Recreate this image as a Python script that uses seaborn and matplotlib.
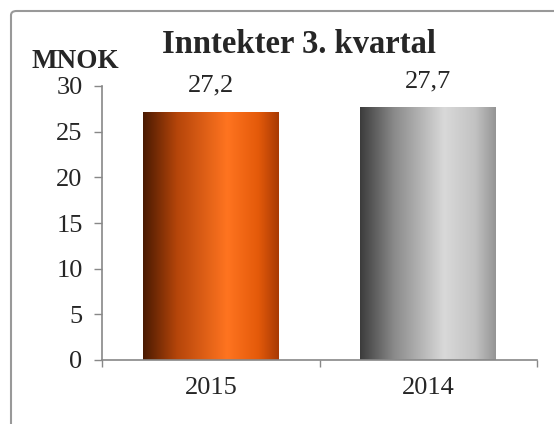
import numpy as np
import pandas as pd
import matplotlib
matplotlib.use("Agg")
import matplotlib.pyplot as plt
from matplotlib.colors import LinearSegmentedColormap
from matplotlib.patches import FancyBboxPatch
import seaborn as sns

years = ["2015", "2014"]
revenue = [27.2, 27.7]
value_labels = ["27,2", "27,7"]
y_ticks = [0, 5, 10, 15, 20, 25, 30]

sns.set_style("white")
plt.rcParams['font.family'] = ['Liberation Serif', 'DejaVu Serif']

df = pd.DataFrame({"year": years, "revenue": revenue})

fig = plt.figure(figsize=(5.54, 4.24), dpi=100)
ax = fig.add_axes([102 / 554, 1 - 360 / 424, 435 / 554, 274 / 424])

sns.barplot(data=df, x="year", y="revenue", width=0.625, color="white",
            edgecolor="none", ax=ax)

# horizontal shading, like the original office chart
orange = LinearSegmentedColormap.from_list("orange", [
    (0.0, "#4a1a02"), (0.25, "#b5450a"), (0.62, "#ff7420"),
    (0.85, "#e45a0a"), (1.0, "#a83a04")])
grey = LinearSegmentedColormap.from_list("grey", [
    (0.0, "#3c3c3c"), (0.25, "#8a8a8a"), (0.62, "#d9d9d9"),
    (0.85, "#c2c2c2"), (1.0, "#959595")])
grad = np.linspace(0, 1, 256).reshape(1, -1)
for patch, cmap in zip(ax.patches, [orange, grey]):
    x0, y0 = patch.get_x(), patch.get_y()
    w, h = patch.get_width(), patch.get_height()
    im = ax.imshow(grad, cmap=cmap, aspect="auto",
                   extent=[x0, x0 + w, y0, y0 + h], zorder=patch.get_zorder() + 0.1)
    im.set_clip_path(patch)

for i, (v, lab) in enumerate(zip(revenue, value_labels)):
    ax.text(i, v + 2.15, lab, ha="center", va="baseline", fontsize=19)

ax.set_xlim(-0.5, 1.5)
ax.set_ylim(0, 30)
ax.set_yticks(y_ticks)
ax.set_xlabel("")
ax.set_ylabel("")
ax.tick_params(axis="y", labelsize=19, length=6, width=1, color="#888888",
               direction="out", left=True, pad=8)
ax.tick_params(axis="x", which="major", labelsize=19, length=0, pad=12.5)
ax.set_xticks([-0.5, 0.5, 1.5], minor=True)
ax.tick_params(axis="x", which="minor", length=5, width=1, color="#888888",
               direction="out", bottom=True)
for s in ["top", "right"]:
    ax.spines[s].set_visible(False)
for s in ["left", "bottom"]:
    ax.spines[s].set_color("#888888")
    ax.spines[s].set_linewidth(1.2)

fig.text(299 / 554, 1 - 53 / 424, "Inntekter 3. kvartal", ha="center",
         va="baseline", fontsize=23.5, fontweight="bold")
fig.text(75 / 554, 1 - 68 / 424, "MNOK", ha="center", va="baseline",
         fontsize=19.5, fontweight="bold")

frame = FancyBboxPatch((11 / 554, -0.2), 1.2, 1.2 - 11 / 424,
                       boxstyle="round,pad=0,rounding_size=0.01",
                       transform=fig.transFigure, fill=False,
                       edgecolor="#999999", linewidth=1.5, clip_on=False)
fig.patches.append(frame)

fig.savefig("out.png", dpi=100)
